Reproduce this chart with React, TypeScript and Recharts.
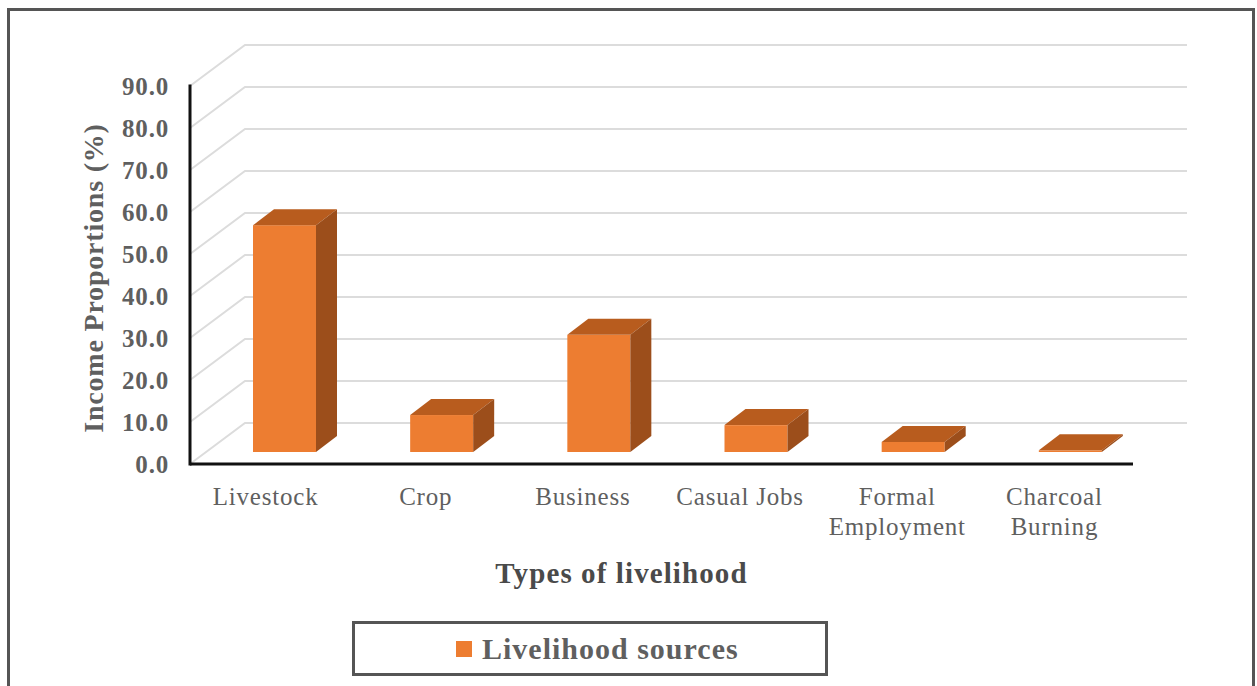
import React from 'react';
import { BarChart, Bar, XAxis, YAxis, CartesianGrid, Legend } from 'recharts';

const categories = ['Livestock', 'Crop', 'Business', 'Casual Jobs', 'Formal Employment', 'Charcoal Burning'];
const shares = [54.0, 8.8, 27.9, 6.4, 2.4, 0.4];
const yTicks = [0, 10, 20, 30, 40, 50, 60, 70, 80, 90];

const rows = categories.map((name, i) => ({ name, share: shares[i] }));

const SERIF = '"Liberation Serif", "Times New Roman", serif';
const GREY_TEXT = '#5f5f5f';

// Depth of the extruded look: wall lines and bar blocks recede up and to the right.
const WALL_DX = 55;
const WALL_DY = 41;
const BLOCK_DX = 21;
const BLOCK_DY = 16;
const BLOCK_SHIFT_X = 16;
const BLOCK_LIFT = 12;

function WallLine(props: any) {
  const { x1, x2, y1 } = props;
  const d = `M${x1},${y1} L${x1 + WALL_DX},${y1 - WALL_DY} L${x2 + WALL_DX - 1},${y1 - WALL_DY}`;
  return <path d={d} fill="none" stroke="#dcdcdc" strokeWidth={2} />;
}

function Block(props: any) {
  const { x, y, width, height } = props;
  const left = x + BLOCK_SHIFT_X;
  const right = left + width;
  const top = y - BLOCK_LIFT;
  const bottom = top + height;
  const topFace = `${left},${top} ${left + BLOCK_DX},${top - BLOCK_DY} ${right + BLOCK_DX},${top - BLOCK_DY} ${right},${top}`;
  const sideFace = `${right},${top} ${right + BLOCK_DX},${top - BLOCK_DY} ${right + BLOCK_DX},${bottom - BLOCK_DY} ${right},${bottom}`;
  return (
    <g>
      <rect x={left} y={top} width={width} height={height} fill="#ED7D31" />
      <polygon points={topFace} fill="#B85C1E" />
      <polygon points={sideFace} fill="#9C4E1B" />
    </g>
  );
}

function CategoryTick(props: any) {
  const { x, y, payload, index } = props;
  const words: string[] = payload.value.length > 12 ? payload.value.split(' ') : [payload.value];
  const cx = index === 0 ? x - 3 : x;
  return (
    <text x={cx} y={y} textAnchor="middle" fontFamily={SERIF} fontSize={25} letterSpacing={0.8} fill={GREY_TEXT}>
      {words.map((w, i) => (
        <tspan key={w} x={cx} dy={i === 0 ? 0 : 30}>
          {w}
        </tspan>
      ))}
    </text>
  );
}

function LegendBox(props: any) {
  const entry = props.payload?.[0];
  return (
    <div
      style={{
        width: 476,
        height: 55,
        boxSizing: 'border-box',
        border: '3px solid #555',
        display: 'flex',
        alignItems: 'center',
        paddingLeft: 101,
      }}
    >
      {entry ? (
        <>
          <span style={{ width: 16, height: 16, background: entry.color, marginRight: 10, flex: 'none' }} />
          <span style={{ fontFamily: SERIF, fontSize: 30, fontWeight: 700, letterSpacing: 1, color: GREY_TEXT, lineHeight: '30px' }}>
            {entry.value}
          </span>
        </>
      ) : null}
    </div>
  );
}

export default function App() {
  return (
    <div style={{ position: 'absolute', left: 0, top: 0, width: 1257, height: 686, overflow: 'hidden', background: '#fff' }}>
      <div
        style={{
          position: 'absolute',
          left: 7,
          top: 8,
          width: 1248,
          height: 700,
          boxSizing: 'border-box',
          border: '3px solid #555',
        }}
      />
      <div style={{ position: 'absolute', left: 0, top: 0 }}>
        <BarChart
          width={1257}
          height={686}
          data={rows}
          margin={{ top: 86, right: 124, bottom: 122, left: 0 }}
          barSize={63}
        >
          <CartesianGrid vertical={false} horizontal={(p: any) => <WallLine key={p.key ?? p.y1} {...p} />} />
          <XAxis
            dataKey="name"
            height={100}
            interval={0}
            tickLine={false}
            axisLine={{ stroke: '#111', strokeWidth: 3 }}
            tick={<CategoryTick />}
            tickMargin={35}
            label={{
              value: 'Types of livelihood',
              position: 'insideBottom',
              offset: -19,
              dx: -40,
              fontFamily: SERIF,
              fontSize: 29,
              fontWeight: 700,
              letterSpacing: 1.1,
              fill: '#4a4a4a',
            }}
          />
          <YAxis
            width={190}
            domain={[0, 90]}
            ticks={yTicks}
            interval={0}
            tickLine={false}
            axisLine={{ stroke: '#111', strokeWidth: 3, strokeLinecap: 'square' }}
            tickMargin={15}
            tickFormatter={(v: number) => v.toFixed(1)}
            tick={{ fontFamily: SERIF, fontSize: 25, fontWeight: 700, fill: GREY_TEXT, letterSpacing: 0.8 }}
            label={{
              value: 'Income Proportions (%)',
              angle: -90,
              position: 'insideLeft',
              dx: 88,
              dy: 3,
              fontFamily: SERIF,
              fontSize: 28,
              fontWeight: 700,
              letterSpacing: 0.8,
              fill: GREY_TEXT,
              style: { textAnchor: 'middle' },
            }}
          />
          <Legend
            layout="horizontal"
            verticalAlign="middle"
            align="center"
            wrapperStyle={{ position: 'absolute', left: 352, top: 621, width: 476, height: 55 }}
            content={<LegendBox />}
          />
          <Bar dataKey="share" name="Livelihood sources" fill="#ED7D31" isAnimationActive={false} shape={<Block />} />
        </BarChart>
      </div>
    </div>
  );
}
